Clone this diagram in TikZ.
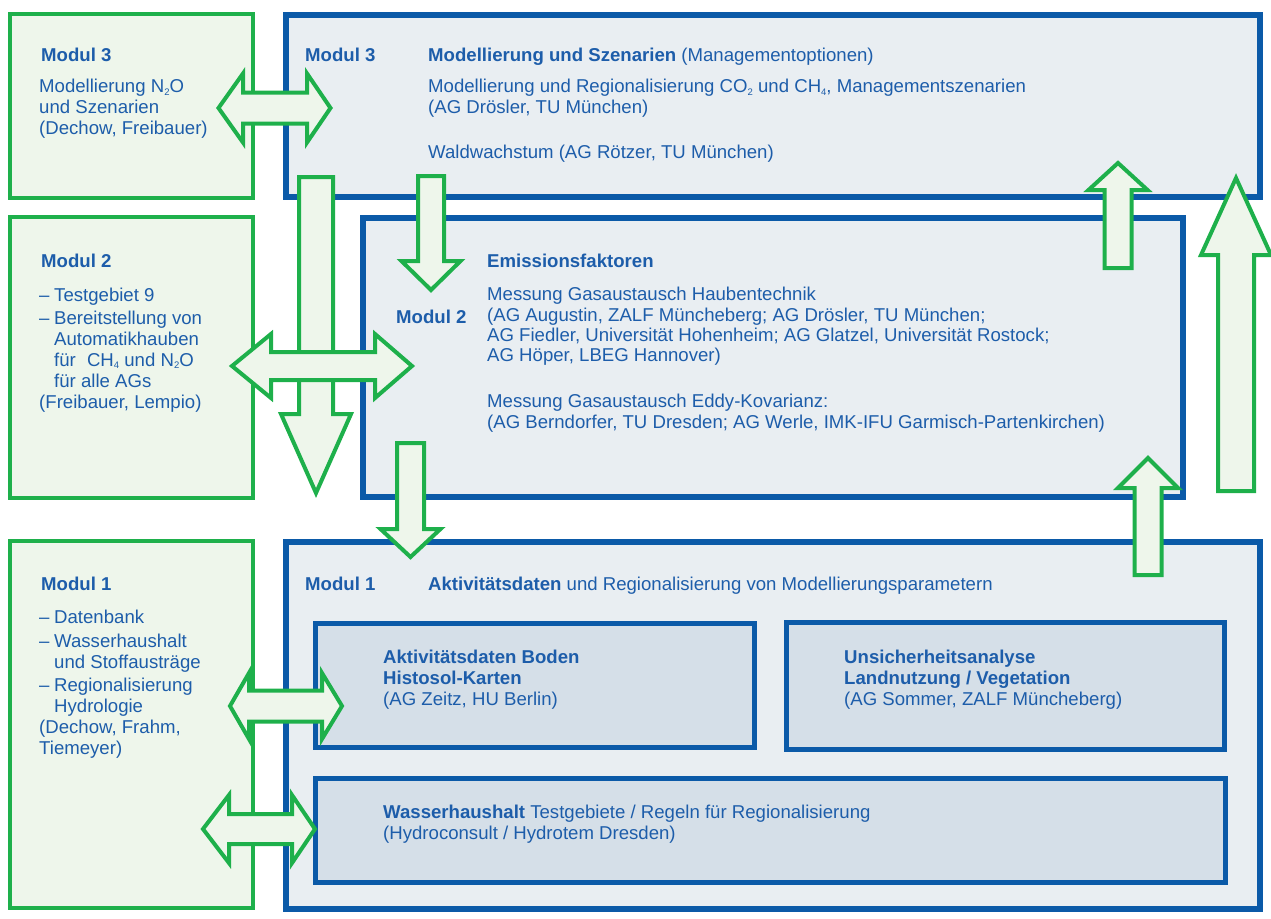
\documentclass[tikz,border=0pt]{standalone}
\usepackage{fontspec}
\setmainfont{Liberation Sans}
\definecolor{gr}{HTML}{1EB04B}
\definecolor{grfill}{HTML}{EEF6EB}
\definecolor{bl}{HTML}{0B5AA8}
\definecolor{blfill}{HTML}{E9EEF2}
\definecolor{blin}{HTML}{D5DFE8}
\definecolor{txtc}{HTML}{1D5DAA}
\newcommand\vArrow[6]{% x, tail, tip, shafthalf, headhalf, headbase
  \draw[barrow] ({#1-#4},#2) -- ({#1-#4},#6) -- ({#1-#5},#6) -- (#1,#3) -- ({#1+#5},#6) -- ({#1+#4},#6) -- ({#1+#4},#2) -- cycle;}
\newcommand\hDArrow[7]{% y, lefttip, leftbase, rightbase, righttip, shafthalf, headhalf
  \draw[barrow] (#2,#1) -- (#3,{#1-#7}) -- (#3,{#1-#6}) -- (#4,{#1-#6}) -- (#4,{#1-#7}) -- (#5,#1) -- (#4,{#1+#7}) -- (#4,{#1+#6}) -- (#3,{#1+#6}) -- (#3,{#1+#7}) -- cycle;}
\newcommand\myind{\hspace*{15pt}}
\newcommand\mydash{\makebox[15pt][l]{–}}
\newcommand\mysub[1]{\raisebox{-2.5pt}{\fontsize{9.5}{9.5}\selectfont #1}}
\tikzset{
  gbox/.style={draw=gr, fill=grfill, line width=4pt},
  bbox/.style={draw=bl, fill=blfill, line width=5.5pt},
  ibox/.style={draw=bl, fill=blin, line width=5pt},
  barrow/.style={draw=gr, fill=grfill, line width=4pt, line join=miter},
  txt/.style={anchor=north west, inner sep=0pt, align=left, text=txtc,
    font=\fontsize{18.6}{21}\selectfont, execute at begin node=\strut},
}
\begin{document}
\begin{tikzpicture}[x=1pt,y=-1pt]
\useasboundingbox (0,0) rectangle (1271,918);
% green boxes
\draw[gbox] (10,14) rectangle (253,198);
\draw[gbox] (10,217) rectangle (253,498);
\draw[gbox] (10,541) rectangle (253,908);
% blue boxes
\draw[bbox] (286,15) rectangle (1260,197);
\draw[bbox] (363,218) rectangle (1183,497);
\draw[bbox] (286,542) rectangle (1260,909);
\draw[ibox] (315.5,623.5) rectangle (754.5,747.5);
\draw[ibox] (786.5,622.5) rectangle (1224.5,749.5);
\draw[ibox] (315.5,778.5) rectangle (1225.5,882.5);
% texts: left green
\node[txt] (g3h) at (41,46.3) {\textbf{Modul 3}};
\node[txt] (g3b) at (39,79.3) {Modellierung N\mysub{2}O\\und Szenarien\\(Dechow, Freibauer)};
\node[txt] (g2h) at (41,252.3) {\textbf{Modul 2}};
\node[txt] (g2b) at (39,288.3) {\mydash Testgebiet 9\\[1.5pt]\mydash Bereitstellung von\\\myind Automatikhauben\\\myind für\hspace{0.6em}CH\mysub{4} und N\mysub{2}O\\\myind für alle AGs\\(Freibauer, Lempio)};
\node[txt] (g1h) at (41,575.3) {\textbf{Modul 1}};
\node[txt] (g1b) at (39,610.3) {\mydash Datenbank\\[2.5pt]\mydash Wasserhaushalt\\\myind und Stoffausträge\\[2pt]\mydash Regionalisierung\\\myind Hydrologie\\(Dechow, Frahm,\\Tiemeyer)};
% blue Modul 3
\node[txt] (b3h) at (305,46.3) {\textbf{Modul 3}};
\node[txt] (b3t) at (428,46.3) {\textbf{Modellierung und Szenarien} (Managementoptionen)};
\node[txt] (b3b) at (428,79.3) {Modellierung und Regionalisierung CO\mysub{2} und CH\mysub{4}, Managementszenarien\\(AG Drösler, TU München)};
\node[txt] (b3w) at (428,143.3) {Waldwachstum (AG Rötzer, TU München)};
% blue Modul 2
\node[txt] (b2h) at (396,308.3) {\textbf{Modul 2}};
\node[txt] (b2t) at (487,252.3) {\textbf{Emissionsfaktoren}};
\node[txt,font=\fontsize{18.6}{20.3}\selectfont] (b2a) at (487,287.3) {Messung Gasaustausch Haubentechnik\\(AG Augustin, ZALF Müncheberg; AG Drösler, TU München;\\AG Fiedler, Universität Hohenheim; AG Glatzel, Universität Rostock;\\AG Höper, LBEG Hannover)};
\node[txt,font=\fontsize{18.6}{20.3}\selectfont] (b2b) at (487,394.3) {Messung Gasaustausch Eddy-Kovarianz:\\(AG Berndorfer, TU Dresden; AG Werle, IMK-IFU Garmisch-Partenkirchen)};
% blue Modul 1
\node[txt] (b1h) at (305,575.3) {\textbf{Modul 1}};
\node[txt] (b1t) at (428,575.3) {\textbf{Aktivitätsdaten} und Regionalisierung von Modellierungsparametern};
\node[txt] (ia) at (383,650.3) {\textbf{Aktivitätsdaten Boden}\\\textbf{Histosol-Karten}\\(AG Zeitz, HU Berlin)};
\node[txt] (ib) at (844,650.3) {\textbf{Unsicherheitsanalyse}\\\textbf{Landnutzung / Vegetation}\\(AG Sommer, ZALF Müncheberg)};
\node[txt] (ic) at (383,805.3) {\textbf{Wasserhaushalt} Testgebiete / Regeln für Regionalisierung\\(Hydroconsult / Hydrotem Dresden)};
% block arrows
\vArrow{316}{177}{493}{17}{35}{414}
\hDArrow{108}{218.5}{243}{307}{330.5}{15.5}{34.5}
\hDArrow{366}{232}{271}{375}{412}{14}{32}
\vArrow{431}{176}{290}{13}{29.5}{261}
\vArrow{410.5}{443}{557}{13.5}{30}{529}
\vArrow{1118}{268}{163}{13.5}{29.5}{190}
\vArrow{1148}{575}{458}{13.5}{30}{488}
\vArrow{1236}{491}{178}{18}{35}{255}
\hDArrow{706}{230}{249}{322}{342}{15.5}{33}
\hDArrow{829}{203}{229}{292}{315}{15}{34}
\end{tikzpicture}
\end{document}
